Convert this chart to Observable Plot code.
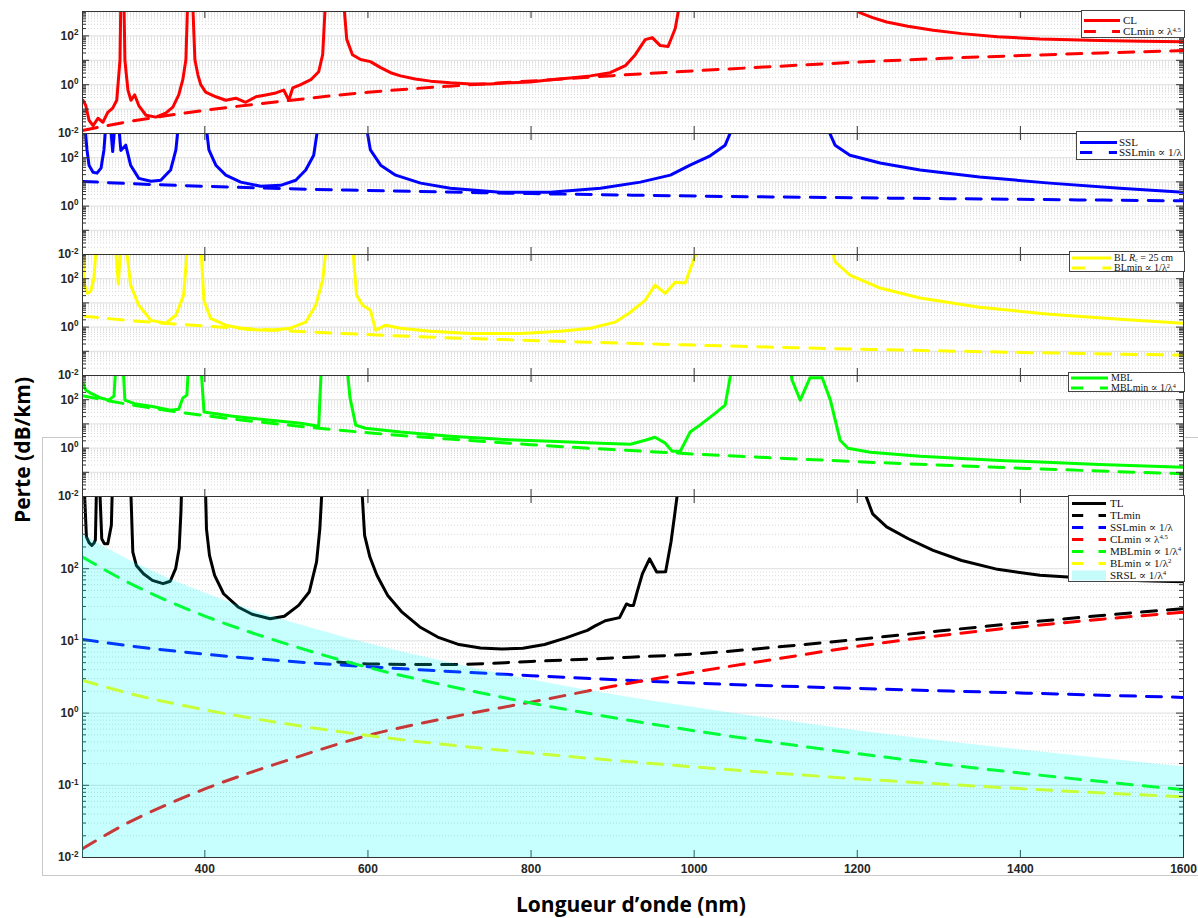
<!DOCTYPE html>
<html><head><meta charset="utf-8">
<script src="https://cdn.jsdelivr.net/npm/d3@7"></script>
<script src="https://cdn.jsdelivr.net/npm/@observablehq/plot@0.6"></script>
<style>
body{margin:0;background:#fff;}
#root{position:relative;width:1198px;height:918px;overflow:hidden;background:#fff;font-family:"Liberation Sans",Arial,sans-serif;}
#root svg{position:absolute;left:0;top:0;overflow:visible;}
.leg{position:absolute;background:#fff;border:1px solid #444;box-sizing:border-box;font-family:"Liberation Serif","DejaVu Serif",serif;color:#111;}
.leg .row{position:absolute;left:0;white-space:nowrap;}
.leg sup{font-size:0.62em;vertical-align:0;position:relative;top:-0.45em;line-height:0;}
.leg sub{font-size:0.62em;vertical-align:0;position:relative;top:0.25em;line-height:0;}
.ylab{position:absolute;font-family:"Open Sans",sans-serif;font-weight:700;font-size:21px;color:#000;white-space:nowrap;}
.gb{position:absolute;background:#c8c8c8;}
</style></head><body><div id="root"></div><script>
// ---------- data (wavelength nm, loss dB/km) ----------
const wavelengthTicks = [400, 600, 800, 1000, 1200, 1400, 1600];
const yTicksUpper = [0.01, 1, 100];
const yTicksLower = [0.01, 0.1, 1, 10, 100];

const CLmin = [[250,0.0132],[300,0.028],[350,0.052],[400,0.089],[500,0.22],[600,0.49],[700,0.87],[800,1.42],[900,2.35],[1000,3.7],[1100,5.6],[1200,8.4],[1300,11.8],[1400,15.6],[1500,20],[1600,25]];
const SSLmin = [[250,10.5],[300,8.75],[400,6.56],[500,5.25],[600,4.4],[800,3.3],[1000,2.6],[1200,2.2],[1400,1.9],[1600,1.65]];
const BLmin = [[250,2.84],[300,1.97],[400,1.11],[500,0.71],[600,0.49],[800,0.28],[1000,0.18],[1200,0.123],[1400,0.09],[1600,0.069]];
const MBLmin = [[250,145],[300,70],[350,37.7],[400,22.1],[500,9.1],[600,4.3],[700,2.36],[800,1.38],[900,0.87],[1000,0.57],[1200,0.275],[1400,0.148],[1600,0.087]];
const TLmin = [[563,5.1],[600,4.8],[700,4.7],[800,5.2],[900,5.8],[1000,6.6],[1100,8.2],[1200,10.5],[1300,13.7],[1400,17.7],[1500,22.5],[1600,28]];
const SRSL = [[250,300],[300,145],[350,78],[400,46],[450,28.5],[500,19],[600,9.2],[700,5.0],[800,2.9],[900,1.8],[1000,1.2],[1200,0.57],[1400,0.31],[1600,0.18]];

const CL = [[250.6,0.23],[254,0.14],[258,0.035],[263,0.021],[269,0.042],[275,0.029],[281,0.074],[287,0.11],[292,0.23],[296,10.7],[297,3000],[300.8,3000],[302,10],[305.7,0.6],[309.4,0.23],[314,0.38],[319,0.14],[327.8,0.056],[340,0.047],[352,0.068],[360.8,0.12],[368,0.38],[373,1.6],[376.8,10.7],[379,3000],[385,3000],[387.8,10.7],[391.4,2.6],[395,1.0],[401,0.5],[413.5,0.32],[425.7,0.23],[438,0.28],[450,0.19],[462.6,0.32],[474.7,0.38],[487,0.46],[496.8,0.6],[503,0.23],[507.8,0.74],[517.6,1.0],[530,1.6],[539.6,3.4],[544.5,17],[548,3000],[570,3000],[574,72],[581,17],[591,10.7],[603,8.8],[615.6,5],[627.8,3.1],[640,2.3],[658,1.7],[676.8,1.4],[701,1.2],[725.7,1.07],[750,1.07],[774.8,1.2],[799,1.3],[823.8,1.6],[848,1.9],[872.8,2.3],[897,3.1],[915.6,6],[927.8,17],[940,70],[948.6,85],[958.4,40],[968,37],[976.8,200],[983,3000],[1197,3000],[1203,900],[1218.8,560],[1236,370],[1262,250],[1293,172],[1328,124],[1372,92],[1424,75],[1497,65],[1550,61],[1600,58]];

const SSL = [[252.6,3000],[255.5,210],[258,49],[262.9,25],[267.8,23],[272.7,37],[276.3,210],[278.8,3000],[284,3000],[287,180],[290,3000],[294,3000],[297,200],[303,330],[309,49],[319,14],[334,10.7],[346,11.7],[358,31],[364.5,210],[368,3000],[401,3000],[405,210],[413.5,49],[425.7,19],[444,9.8],[468.6,6.6],[493,7.2],[511.5,11.7],[523.7,31],[533.5,126],[539.6,3000],[597,3000],[603,210],[615.6,49],[634,19],[664.6,8.9],[701,5.5],[762,3.7],[823.7,3.7],[885,5.5],[934,9.8],[970.8,19],[995,49],[1019.6,120],[1038,330],[1050,3000],[1160,3000],[1172.8,330],[1191,126],[1228,60],[1277,31],[1350,16],[1436,8.9],[1522,5.5],[1600,3.7]];

const BL = [[250,3000],[252,60],[256,25],[260,30],[264,100],[267,3000],[290,3000],[294,60],[297,3000],[303,3000],[309,54],[319,8],[334,1.9],[352,1.45],[364.5,3.1],[374,21],[379,3000],[395,3000],[398.8,13],[407,2.3],[425.7,1.2],[450,0.81],[480.8,0.74],[505,0.9],[523.7,1.6],[536,8],[544.5,87],[549.4,3000],[581,3000],[586,21],[593.5,8],[603,5],[609.5,0.74],[621.7,1.2],[640,0.9],[676.8,0.67],[725.7,0.55],[787,0.55],[836,0.67],[872.8,0.9],[903,1.6],[921.8,4.1],[940,13],[952,54],[964.6,25],[976.8,72],[989,66],[1007,3000],[1167,3000],[1173,490],[1191,141],[1228,41],[1277,16],[1350,6.6],[1436,3.4],[1522,2.1],[1600,1.45]];

const MBL = [[250.6,490],[254,250],[260,186],[272.6,117],[282,96],[288.6,141],[291,3000],[299.6,3000],[302,96],[315.5,66],[334,54],[358,37],[368,40],[373,117],[378,155],[380,3000],[395,3000],[399,31],[432,21],[481,14],[517.6,10.7],[539.6,8],[543,3000],[574,3000],[578,120],[585,8.9],[597,6.6],[640,4.6],[701,3.1],[762.5,2.3],[823.8,1.9],[885,1.6],[921.8,1.45],[940,2.1],[952,2.8],[964.6,1.6],[973,0.74],[983,0.74],[995,4.6],[1007,8.9],[1026,28],[1038,60],[1047,3000],[1117,3000],[1120,650],[1130,96],[1142,800],[1157,800],[1167,96],[1179,2.1],[1188.6,0.98],[1216,0.68],[1277,0.46],[1375,0.31],[1497,0.21],[1600,0.16]];

const TL = [[250,3000],[251.5,2000],[254.8,277],[258,230],[261.4,210],[264,225],[265.8,250],[267.5,2000],[270.5,2000],[273.6,260],[276.7,222],[281,222],[285.4,400],[287,2000],[308.6,2000],[311.7,170],[316,111],[324.8,85],[335.7,69],[348.8,62],[357.6,67],[364.2,100],[368.5,190],[370.7,610],[372,2000],[400.4,2000],[402,357],[405.7,153],[412,81],[423,45],[440.7,29.5],[458,23.4],[480,20.3],[497.5,22],[515,31],[528,47.5],[537,124],[541,357],[544.7,2000],[591.5,2000],[595.9,290],[602.4,145],[611,81],[624,43],[641.8,25],[663.6,15.6],[685.5,11.3],[711.7,8.9],[738,8.0],[764,7.7],[790,7.9],[816.6,8.9],[842.8,11],[860,12.9],[869,14],[878,16],[891,19],[908.5,21],[917,32.5],[921,31],[925.6,31],[930,47.5],[936.5,85],[945.3,137],[954,90],[965,91],[971.6,234],[976,550],[982.5,2000],[1201,2000],[1218.8,576],[1236,379],[1262.6,260],[1293,179],[1328,130],[1372,98],[1424,81],[1497,72],[1550,68],[1600,66]];

// ---------- layout ----------
const W = 1198, H = 918, ML = 82, MR = 15;
const root = document.getElementById("root");
const RED = "#ff0000", BLUE = "#0000ff", YEL = "#ffff00", GRN = "#00ff00", BLK = "#000000", CYAN = "#00ffff";
const DASH = "15,11";
const X = d => d[0], Y = d => d[1];
const solid = (data, color) => Plot.line(data, {x: X, y: Y, stroke: color, strokeWidth: 3, clip: true});
const dashed = (data, color) => Plot.line(data, {x: X, y: Y, stroke: color, strokeWidth: 3, strokeDasharray: DASH, curve: "monotone-x", clip: true});

function panel(top, bottom, layers, yTicks, showX, over = []) {
  const fh = bottom - top, fw = W - ML - MR;
  const decades = [0.01, 0.1, 1, 10, 100, 1000];
  const minor = [];
  for (const d of [0.01, 0.1, 1, 10, 100]) for (let k = 2; k <= 9; k++) minor.push(d * k);
  const svg = Plot.plot({
    width: W, height: H,
    marginLeft: ML, marginRight: MR, marginTop: top, marginBottom: H - bottom,
    style: {background: "transparent", overflow: "visible", color: "#262626", fontFamily: "Liberation Sans, Arial, sans-serif"},
    x: {domain: [250, 1600], axis: null},
    y: {type: "log", domain: [0.01, 1000], axis: null},
    marks: [
      Plot.ruleY(minor, {stroke: "#cfcfcf", strokeDasharray: "1,2", strokeWidth: 0.8}),
      Plot.ruleY(decades, {stroke: "#d6d6d6", strokeWidth: 0.8}),
      ...layers,
      Plot.frame({stroke: "#333", strokeWidth: 1}),
      Plot.tickY(minor, {y: d => d, insetRight: fw - 4, stroke: "#333"}),
      Plot.tickY(minor, {y: d => d, insetLeft: fw - 4, stroke: "#333"}),
      Plot.tickY(decades, {y: d => d, insetRight: fw - 7, stroke: "#333"}),
      Plot.tickY(decades, {y: d => d, insetLeft: fw - 7, stroke: "#333"}),
      Plot.tickX(wavelengthTicks, {x: d => d, insetTop: fh - 7, stroke: "#333"}),
      Plot.tickX(wavelengthTicks, {x: d => d, insetBottom: fh - 7, stroke: "#333"}),
      ...over,
      Plot.axisY(yTicks, {anchor: "left", tickSize: 0, tickPadding: 4, fontSize: 12, fontWeight: "bold", label: null,
        tickFormat: d => String(Math.round(Math.log10(d)))}),
      showX ? Plot.axisX(wavelengthTicks, {anchor: "bottom", tickSize: 0, tickPadding: 7, fontSize: 12, fontWeight: "bold", label: null, tickFormat: d => String(d)}) : null
    ]
  });
  const ns = "http://www.w3.org/2000/svg";
  svg.querySelectorAll('[aria-label="y-axis tick label"] text').forEach(t => {
    const e = t.textContent.replace("−", "-");
    t.textContent = "";
    const a = document.createElementNS(ns, "tspan"); a.textContent = "10"; t.appendChild(a);
    const b = document.createElementNS(ns, "tspan"); b.textContent = e;
    b.setAttribute("dy", "-0.55em"); b.setAttribute("font-size", "0.68em"); t.appendChild(b);
  });
  root.appendChild(svg);
}

// gray border of the inset figure
[[42, 437, 1, 439], [42, 875, 1156, 1], [42, 437, 40, 1], [1185, 437, 13, 1]].forEach(([l, t, w, h]) => {
  const d = document.createElement("div"); d.className = "gb";
  Object.assign(d.style, {left: l + "px", top: t + "px", width: w + "px", height: h + "px"});
  root.appendChild(d);
});

panel(11, 133, [solid(CL, RED), dashed(CLmin, RED)], yTicksUpper, false);
panel(133, 254, [solid(SSL, BLUE), dashed(SSLmin, BLUE)], yTicksUpper, false);
panel(254, 375, [solid(BL, YEL), dashed(BLmin, YEL)], yTicksUpper, false);
panel(375, 496, [solid(MBL, GRN), dashed(MBLmin, GRN)], yTicksUpper, false);
panel(496, 857, [
  solid(TL, BLK), dashed(TLmin, BLK), dashed(SSLmin, BLUE), dashed(CLmin, RED),
  dashed(MBLmin, GRN), dashed(BLmin, YEL)
], yTicksLower, true, [
  Plot.areaY(SRSL, {x: X, y1: 0.01, y2: Y, fill: CYAN, fillOpacity: 0.22, curve: "monotone-x", clip: true})
]);

// ---------- legends ----------
function legend(left, top, width, height, fs, rows, sx0, sx1, tx) {
  const box = document.createElement("div"); box.className = "leg";
  Object.assign(box.style, {left: left + "px", top: top + "px", width: width + "px", height: height + "px", fontSize: fs + "px"});
  const rh = fs;
  rows.forEach(r => {
    const row = document.createElement("div"); row.className = "row";
    row.style.top = (r.y - rh / 2) + "px"; row.style.height = rh + "px"; row.style.width = (width - 2) + "px";
    row.style.lineHeight = rh + "px";
    const s = document.createElementNS("http://www.w3.org/2000/svg", "svg");
    s.setAttribute("width", sx1 + 2); s.setAttribute("height", rh);
    s.style.position = "absolute"; s.style.left = "0"; s.style.top = "0";
    const cy = rh / 2;
    if (r.patch) {
      s.innerHTML = `<rect x="${sx0}" y="${cy - 5}" width="${sx1 - sx0}" height="10" fill="${r.color}"/>`;
    } else {
      s.innerHTML = `<line x1="${sx0}" x2="${sx1}" y1="${cy}" y2="${cy}" stroke="${r.color}" stroke-width="3" ${r.dash ? `stroke-dasharray="${(sx1 - sx0) * 0.33},${(sx1 - sx0) * 0.45}"` : ""}/>`;
    }
    row.appendChild(s);
    const t = document.createElement("span"); t.innerHTML = r.label;
    Object.assign(t.style, {position: "absolute", left: tx + "px", top: "0", lineHeight: rh + "px", height: rh + "px"});
    row.appendChild(t);
    box.appendChild(row);
  });
  root.appendChild(box);
}
legend(1081, 10, 104, 28, 11, [
  {color: RED, label: "CL", y: 9.5}, {color: RED, dash: true, label: "CLmin ∝ λ<sup>4.5</sup>", y: 20.5}
], 2, 38, 41);
legend(1076, 131, 109, 29, 11, [
  {color: BLUE, label: "SSL", y: 10.5}, {color: BLUE, dash: true, label: "SSLmin ∝ 1/λ", y: 20.5}
], 3, 40, 42);
legend(1069, 251, 116, 21, 10, [
  {color: YEL, label: "BL <i>R</i><sub>c</sub> = 25 cm", y: 5.5}, {color: YEL, dash: true, label: "BLmin ∝ 1/λ<sup>2</sup>", y: 15.5}
], 2, 41, 44);
legend(1068, 372, 117, 20, 10, [
  {color: GRN, label: "MBL", y: 5}, {color: GRN, dash: true, label: "MBLmin ∝ 1/λ<sup>4</sup>", y: 14.5}
], 2, 39, 42);
legend(1068, 495, 117, 87, 11, [
  {color: BLK, label: "TL", y: 7}, {color: BLK, dash: true, label: "TLmin", y: 19},
  {color: BLUE, dash: true, label: "SSLmin ∝ 1/λ", y: 31}, {color: RED, dash: true, label: "CLmin ∝ λ<sup>4.5</sup>", y: 43},
  {color: GRN, dash: true, label: "MBLmin ∝ 1/λ<sup>4</sup>", y: 55}, {color: YEL, dash: true, label: "BLmin ∝ 1/λ<sup>2</sup>", y: 67},
  {color: "#c6fbfb", patch: true, label: "SRSL ∝ 1/λ<sup>4</sup>", y: 79}
], 3, 37, 41);

// ---------- axis titles ----------
const xt = document.createElement("div"); xt.className = "ylab"; xt.textContent = "Longueur d’onde (nm)";
Object.assign(xt.style, {left: "631px", top: "890px", transform: "translateX(-50%)"});
root.appendChild(xt);
const yt = document.createElement("div"); yt.className = "ylab"; yt.textContent = "Perte (dB/km)";
Object.assign(yt.style, {left: "22px", top: "450px", transform: "translate(-50%,-50%) rotate(-90deg)"});
root.appendChild(yt);
</script></body></html>
